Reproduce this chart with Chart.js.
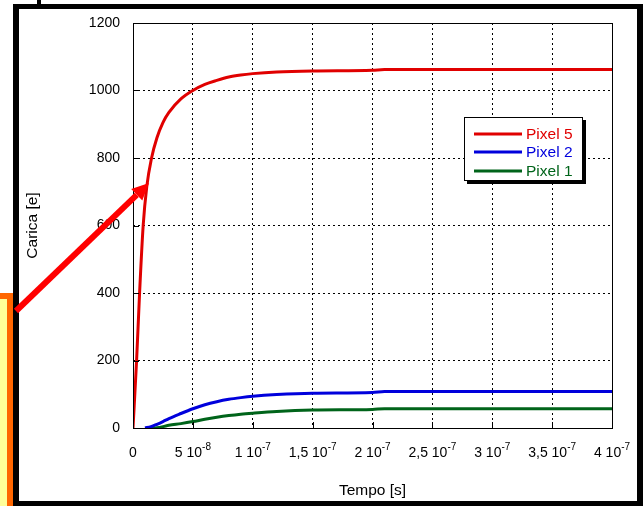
<!DOCTYPE html>
<html>
<head>
<meta charset="utf-8">
<script src="https://cdn.jsdelivr.net/npm/chart.js@4.4.0/dist/chart.umd.min.js"></script>
<style>
html, body { margin: 0; padding: 0; background: #fff; }
#wrap { width: 643px; height: 506px; }
</style>
</head>
<body>
<div id="wrap"><canvas id="chart" width="643" height="506"></canvas></div>
<script>
// collected charge [e] vs time [s] for three pixels
const seriesNames = ['Pixel 5', 'Pixel 2', 'Pixel 1'];

const redT = [0, 0.3e-8, 0.55e-8, 0.85e-8, 1.15e-8, 1.55e-8, 2e-8, 2.5e-8, 3e-8, 4e-8, 5e-8, 6e-8, 7e-8, 8e-8, 9e-8, 1e-7, 1.2e-7, 1.5e-7, 2e-7, 2.1e-7, 3e-7, 4e-7];
const redQ = [0, 200, 400, 600, 715, 800, 860, 905, 935, 975, 1000, 1018, 1030, 1040, 1046, 1050, 1055, 1058, 1060, 1062, 1062, 1062];

const blueT = [1e-8, 1.5e-8, 2e-8, 2.5e-8, 3e-8, 4e-8, 5e-8, 6e-8, 7e-8, 8e-8, 9e-8, 1e-7, 1.2e-7, 1.5e-7, 2e-7, 2.1e-7, 3e-7, 4e-7];
const blueQ = [0, 4, 11, 19, 28, 43, 57, 69, 78, 85, 90, 94, 99, 103, 105, 108, 108, 108];

const greenT = [1.5e-8, 2e-8, 2.5e-8, 3e-8, 4e-8, 5e-8, 6e-8, 7e-8, 8e-8, 9e-8, 1e-7, 1.2e-7, 1.5e-7, 2e-7, 2.1e-7, 3e-7, 4e-7];
const greenQ = [0, 1, 4, 8, 13, 19, 26, 32, 37, 41, 44, 49, 53, 55, 57, 57, 57];

// x tick labels: mantissa and power of ten
const xTickMant = ['0', '5', '1', '1,5', '2', '2,5', '3', '3,5', '4'];
const xTickExp = ['', '-8', '-7', '-7', '-7', '-7', '-7', '-7', '-7'];

const colors = ['#e00000', '#0000dc', '#00641a'];
const FONT = '"Liberation Sans", Arial, sans-serif';

const pts = (t, q) => t.map((v, i) => ({ x: v, y: q[i] }));

// frame, orange box and arrow of the slide + chart border, inner ticks, x labels, legend
const decor = {
    id: 'decor',
    beforeDraw(chart) {
        const c = chart.ctx;
        c.save();
        c.fillStyle = '#fff';
        c.fillRect(0, 0, 643, 506);
        // orange box at left
        c.fillStyle = '#ff6600';
        c.fillRect(0, 293, 14, 213);
        c.fillStyle = '#ffff99';
        c.fillRect(0, 299, 7, 207);
        // black frame
        c.fillStyle = '#000';
        c.fillRect(13, 4, 630, 5);
        c.fillRect(13, 4, 6, 502);
        c.fillRect(637, 4, 6, 502);
        c.fillRect(13, 501, 630, 5);
        c.fillRect(37, 0, 4, 5);
        c.restore();
    },
    afterDraw(chart) {
        const c = chart.ctx;
        const a = chart.chartArea;
        const xs = chart.scales.x, ys = chart.scales.y;
        c.save();
        // plot border
        c.strokeStyle = '#000';
        c.lineWidth = 1;
        c.strokeRect(a.left + 0.5, a.top + 0.5, a.right - a.left, a.bottom - a.top);
        // inner tick marks
        c.beginPath();
        ys.ticks.forEach(t => {
            const y = Math.round(ys.getPixelForValue(t.value)) + 0.5;
            c.moveTo(a.left, y); c.lineTo(a.left + 6, y);
        });
        xs.ticks.forEach(t => {
            const x = Math.round(xs.getPixelForValue(t.value)) + 0.5;
            c.moveTo(x, a.bottom); c.lineTo(x, a.bottom - 6);
        });
        c.stroke();

        // x tick labels with superscript exponents
        c.fillStyle = '#000';
        c.textBaseline = 'middle';
        c.textAlign = 'left';
        xs.ticks.forEach((t, i) => {
            const x = xs.getPixelForValue(t.value);
            const main = xTickExp[i] ? xTickMant[i] + ' 10' : xTickMant[i];
            c.font = '14px ' + FONT;
            const w1 = c.measureText(main).width;
            c.font = '10px ' + FONT;
            const w2 = xTickExp[i] ? c.measureText(xTickExp[i]).width : 0;
            const x0 = x - (w1 + w2) / 2;
            c.font = '14px ' + FONT;
            c.fillText(main, x0, 453);
            if (xTickExp[i]) {
                c.font = '10px ' + FONT;
                c.fillText(xTickExp[i], x0 + w1, 447);
            }
        });

        // legend box with shadow
        const lx = 464, ly = 117, lw = 119, lh = 64;
        c.fillStyle = '#000';
        c.fillRect(lx + 3, ly + 3, lw, lh);
        c.fillStyle = '#fff';
        c.fillRect(lx, ly, lw, lh);
        c.strokeStyle = '#000';
        c.lineWidth = 1;
        c.strokeRect(lx + 0.5, ly + 0.5, lw - 1, lh - 1);
        const rows = [134, 152, 171];
        chart.data.datasets.forEach((ds, i) => {
            c.strokeStyle = ds.borderColor;
            c.lineWidth = 3;
            c.beginPath();
            c.moveTo(474, rows[i]); c.lineTo(522, rows[i]);
            c.stroke();
            c.fillStyle = ds.borderColor;
            c.font = '15.5px ' + FONT;
            c.textBaseline = 'middle';
            c.fillText(ds.label, 526, rows[i] + 1);
        });

        // red arrow pointing at the curve
        const x1 = 16, y1 = 311, x2 = 149, y2 = 183;
        const len = Math.hypot(x2 - x1, y2 - y1);
        const ux = (x2 - x1) / len, uy = (y2 - y1) / len;
        const hl = 17, hw = 8;
        c.strokeStyle = '#ff0000';
        c.fillStyle = '#ff0000';
        c.lineWidth = 6;
        c.beginPath();
        c.moveTo(x1, y1);
        c.lineTo(x2 - ux * hl, y2 - uy * hl);
        c.stroke();
        c.beginPath();
        c.moveTo(x2, y2);
        c.lineTo(x2 - ux * hl - uy * hw, y2 - uy * hl + ux * hw);
        c.lineTo(x2 - ux * hl + uy * hw, y2 - uy * hl - ux * hw);
        c.closePath();
        c.fill();
        c.restore();
    }
};

new Chart(document.getElementById('chart'), {
    type: 'line',
    plugins: [decor],
    data: {
        datasets: [
            { label: seriesNames[0], data: pts(redT, redQ), borderColor: colors[0] },
            { label: seriesNames[1], data: pts(blueT, blueQ), borderColor: colors[1] },
            { label: seriesNames[2], data: pts(greenT, greenQ), borderColor: colors[2] }
        ]
    },
    options: {
        responsive: false,
        animation: false,
        layout: { padding: { left: 14, right: 31, top: 23, bottom: 6 } },
        elements: {
            point: { radius: 0 },
            line: { borderWidth: 3, cubicInterpolationMode: 'monotone', fill: false }
        },
        plugins: { legend: { display: false }, tooltip: { enabled: false } },
        scales: {
            x: {
                type: 'linear',
                min: 0,
                max: 4e-7,
                ticks: { stepSize: 5e-8, display: false },
                grid: { color: '#000', lineWidth: 1, drawTicks: false },
                border: { display: false, dash: [2, 3] },
                title: {
                    display: true, text: 'Tempo [s]', color: '#000',
                    font: { family: FONT, size: 15.5 }, padding: { top: 0, bottom: 0 }
                },
                afterFit(s) { s.height = 72; }
            },
            y: {
                min: 0,
                max: 1200,
                ticks: {
                    stepSize: 200, color: '#000', padding: 13,
                    font: { family: FONT, size: 14 },
                    callback: v => String(v)
                },
                grid: { color: '#000', lineWidth: 1, drawTicks: false },
                border: { display: false, dash: [2, 3] },
                title: {
                    display: true, text: 'Carica [e]', color: '#000',
                    font: { family: FONT, size: 15.5 }, padding: { top: 9, bottom: 0 }
                },
                afterFit(s) { s.width = 119; }
            }
        }
    }
});
</script>
</body>
</html>
